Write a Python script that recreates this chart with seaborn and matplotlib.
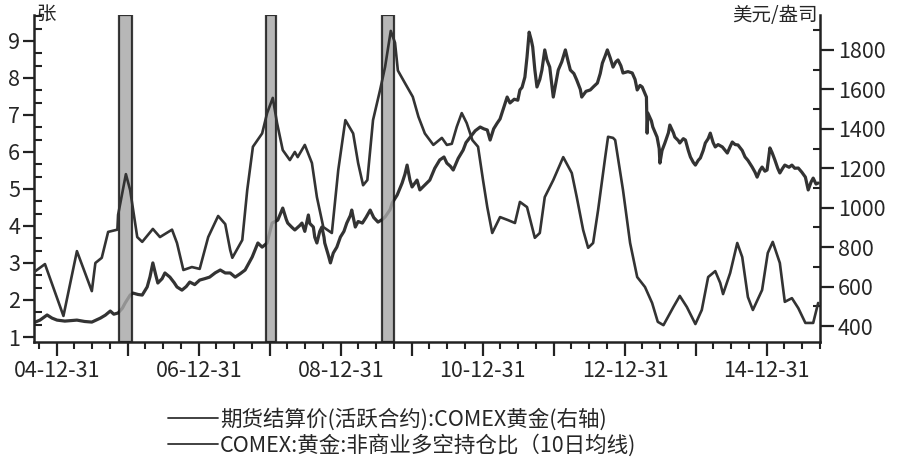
import numpy as np
import pandas as pd
import matplotlib
matplotlib.use("Agg")
import matplotlib.pyplot as plt
import matplotlib.ticker as mticker
import matplotlib.dates as mdates
from matplotlib.lines import Line2D
import seaborn as sns

# ---------------- data (decimal years) ----------------
ratio_t = [2004.66, 2004.83, 2005.09, 2005.28, 2005.49, 2005.54, 2005.63, 2005.72, 2005.85, 2005.86,
           2005.97, 2006.03, 2006.13, 2006.20, 2006.35, 2006.45, 2006.62, 2006.69, 2006.78, 2006.90,
           2007.01, 2007.13, 2007.27, 2007.37, 2007.44, 2007.47, 2007.61, 2007.68, 2007.76, 2007.89,
           2007.96, 2008.04, 2008.10, 2008.18, 2008.28, 2008.35, 2008.39, 2008.49, 2008.59, 2008.66,
           2008.75, 2008.87, 2008.96, 2009.06, 2009.17, 2009.24, 2009.31, 2009.37, 2009.45, 2009.55,
           2009.62, 2009.70, 2009.76, 2009.80, 2009.90, 2010.01, 2010.09, 2010.18, 2010.30, 2010.42,
           2010.49, 2010.56, 2010.63, 2010.70, 2010.77, 2010.85, 2010.93, 2011.00, 2011.06, 2011.13,
           2011.24, 2011.35, 2011.45, 2011.52, 2011.62, 2011.73, 2011.80, 2011.87, 2011.99, 2012.13,
           2012.25, 2012.32, 2012.41, 2012.48, 2012.55, 2012.62, 2012.72, 2012.76, 2012.83, 2012.86,
           2012.97, 2013.07, 2013.17, 2013.28, 2013.38, 2013.46, 2013.54, 2013.68, 2013.77, 2013.87,
           2013.99, 2014.08, 2014.17, 2014.27, 2014.34, 2014.38, 2014.48, 2014.58, 2014.65, 2014.73,
           2014.80, 2014.93, 2015.01, 2015.08, 2015.18, 2015.25, 2015.35, 2015.44, 2015.54, 2015.65,
           2015.72]
ratio_v = [2.73, 2.97, 1.57, 3.32, 2.24, 3.00, 3.14, 3.84, 3.90, 4.30,
           5.40, 4.97, 3.70, 3.57, 3.92, 3.70, 3.90, 3.54, 2.81, 2.89,
           2.84, 3.70, 4.27, 4.05, 3.35, 3.14, 3.62, 4.97, 6.14, 6.50,
           7.05, 7.46, 6.78, 6.05, 5.78, 6.00, 5.86, 6.19, 5.70, 4.78,
           3.97, 3.81, 5.51, 6.86, 6.50, 5.70, 5.10, 5.24, 6.86, 7.68,
           8.30, 9.27, 8.95, 8.20, 7.86, 7.49, 6.95, 6.50, 6.19, 6.38,
           6.19, 6.22, 6.68, 7.05, 6.78, 6.32, 6.14, 5.24, 4.51, 3.81,
           4.24, 4.16, 4.08, 4.65, 4.51, 3.68, 3.81, 4.78, 5.24, 5.86,
           5.43, 4.78, 3.89, 3.41, 3.54, 4.43, 5.86, 6.41, 6.38, 6.32,
           4.97, 3.54, 2.62, 2.35, 1.92, 1.41, 1.32, 1.81, 2.11, 1.81,
           1.35, 1.73, 2.62, 2.78, 2.46, 2.16, 2.73, 3.54, 3.16, 2.08,
           1.73, 2.27, 3.27, 3.57, 3.00, 1.95, 2.05, 1.78, 1.38, 1.38,
           1.92]

gold_t = [2004.66, 2004.76, 2004.86, 2004.93, 2005.00, 2005.11, 2005.28, 2005.39, 2005.49, 2005.61,
          2005.68, 2005.75, 2005.80, 2005.86, 2005.92, 2005.96, 2006.03, 2006.07, 2006.14, 2006.20,
          2006.27, 2006.31, 2006.35, 2006.39, 2006.42, 2006.48, 2006.52, 2006.59, 2006.65, 2006.69,
          2006.76, 2006.82, 2006.87, 2006.94, 2007.01, 2007.08, 2007.15, 2007.23, 2007.30, 2007.37,
          2007.44, 2007.51, 2007.58, 2007.65, 2007.72, 2007.75, 2007.83, 2007.89, 2007.96, 2008.03,
          2008.11, 2008.18, 2008.23, 2008.25, 2008.31, 2008.35, 2008.42, 2008.45, 2008.49, 2008.54,
          2008.56, 2008.61, 2008.63, 2008.66, 2008.70, 2008.73, 2008.76, 2008.77, 2008.82, 2008.85,
          2008.89, 2008.94, 2008.99, 2009.04, 2009.08, 2009.13, 2009.15, 2009.20, 2009.24, 2009.30,
          2009.35, 2009.41, 2009.46, 2009.52, 2009.58, 2009.62, 2009.69, 2009.72, 2009.79, 2009.86,
          2009.90, 2009.93, 2009.97, 2010.00, 2010.07, 2010.11, 2010.18, 2010.25, 2010.32, 2010.39,
          2010.45, 2010.49, 2010.54, 2010.58, 2010.65, 2010.72, 2010.76, 2010.82, 2010.89, 2010.96,
          2011.01, 2011.06, 2011.10, 2011.15, 2011.20, 2011.24, 2011.28, 2011.34, 2011.38, 2011.44,
          2011.49, 2011.52, 2011.55, 2011.59, 2011.62, 2011.65, 2011.68, 2011.70, 2011.73, 2011.76,
          2011.80, 2011.83, 2011.87, 2011.90, 2011.94, 2011.99, 2012.01, 2012.06, 2012.11, 2012.16,
          2012.20, 2012.23, 2012.28, 2012.32, 2012.37, 2012.39, 2012.45, 2012.51, 2012.56, 2012.61,
          2012.65, 2012.68, 2012.72, 2012.75, 2012.79, 2012.83, 2012.87, 2012.90, 2012.94, 2012.97,
          2013.04, 2013.10, 2013.14, 2013.17, 2013.21, 2013.24, 2013.30, 2013.31, 2013.32, 2013.37,
          2013.39, 2013.45, 2013.48, 2013.49, 2013.52, 2013.56, 2013.61, 2013.63, 2013.68, 2013.70,
          2013.75, 2013.77, 2013.82, 2013.85, 2013.89, 2013.92, 2013.96, 2013.99, 2014.03, 2014.06,
          2014.10, 2014.13, 2014.17, 2014.20, 2014.24, 2014.27, 2014.31, 2014.37, 2014.41, 2014.44,
          2014.48, 2014.51, 2014.55, 2014.59, 2014.65, 2014.69, 2014.73, 2014.79, 2014.83, 2014.86,
          2014.90, 2014.93, 2014.97, 2015.00, 2015.04, 2015.07, 2015.11, 2015.15, 2015.18, 2015.22,
          2015.25, 2015.31, 2015.35, 2015.39, 2015.44, 2015.49, 2015.54, 2015.58, 2015.62, 2015.65,
          2015.69, 2015.72]
gold_v = [415, 430, 456, 440, 430, 425, 430, 423, 420, 440,
          455, 476, 460, 466, 490, 517, 557, 567, 560, 557,
          598, 650, 720, 660, 618, 640, 669, 648, 620, 598,
          582, 600, 623, 610, 633, 640, 648, 670, 684, 669,
          669, 648, 665, 684, 730, 750, 821, 800, 821, 922,
          937, 998, 940, 922, 900, 887, 910, 922, 880, 963,
          920, 902, 850, 821, 880, 902, 850, 821, 760, 720,
          770, 800, 851, 880, 922, 960, 988, 902, 930, 922,
          950, 988, 950, 927, 940, 953, 990, 1024, 1064, 1125,
          1170, 1216, 1140, 1105, 1140, 1090, 1115, 1140, 1200, 1242,
          1257, 1226, 1210, 1191, 1250, 1292, 1330, 1358, 1390, 1409,
          1400, 1394, 1343, 1400, 1429, 1450, 1495, 1561, 1531, 1550,
          1545, 1597, 1610, 1662, 1764, 1890, 1850, 1815, 1700, 1612,
          1650, 1698, 1800, 1750, 1713, 1561, 1600, 1698, 1740, 1800,
          1740, 1698, 1680, 1647, 1600, 1561, 1590, 1597, 1615, 1632,
          1680, 1733, 1770, 1800, 1760, 1713, 1740, 1749, 1720, 1683,
          1690, 1683, 1650, 1597, 1620, 1612, 1561, 1378, 1480, 1440,
          1409, 1358, 1300, 1226, 1290, 1328, 1380, 1419, 1380, 1358,
          1340, 1328, 1350, 1343, 1290, 1257, 1230, 1216, 1240, 1252,
          1290, 1328, 1350, 1378, 1330, 1308, 1320, 1308, 1290, 1277,
          1310, 1333, 1320, 1318, 1290, 1257, 1240, 1206, 1180, 1155,
          1190, 1206, 1185, 1191, 1303, 1280, 1242, 1200, 1176, 1200,
          1216, 1205, 1216, 1200, 1201, 1180, 1155, 1090, 1130, 1150,
          1120, 1125]

shade_start = [2005.87, 2007.94, 2009.58]
shade_end = [2006.05, 2008.08, 2009.75]

gold_label = "期货结算价(活跃合约):COMEX黄金(右轴)"
ratio_label = "COMEX:黄金:非商业多空持仓比（10日均线)"
left_unit = "张"
right_unit = "美元/盎司"
x_start, x_end = 2004.676, 2015.746
left_lim = (0.865, 9.70)
right_lim = (319, 1977)


def to_date(t):
    y = int(np.floor(t))
    a = pd.Timestamp(year=y, month=1, day=1)
    b = pd.Timestamp(year=y + 1, month=1, day=1)
    return a + (b - a) * (t - y)


gold_df = pd.DataFrame({"date": [to_date(t) for t in gold_t], "value": gold_v})
ratio_df = pd.DataFrame({"date": [to_date(t) for t in ratio_t], "value": ratio_v})

# ---------------- style ----------------
sns.set_style("ticks")
plt.rcParams["font.family"] = ["Noto Sans CJK SC", "DejaVu Sans"]
plt.rcParams["axes.unicode_minus"] = False

LINE = "#333333"
FS = 15.5

fig = plt.figure(figsize=(9, 4.7), dpi=100)
ax = fig.add_axes([34 / 900, 1 - 342 / 470, (820 - 34) / 900, (342 - 15) / 470])
ax2 = ax.twinx()
ax.set_zorder(ax2.get_zorder() + 1)
ax.patch.set_visible(False)

sns.lineplot(data=gold_df, x="date", y="value", ax=ax2, color=LINE, linewidth=2.3,
             estimator=None, sort=False, zorder=2)
for s, e in zip(shade_start, shade_end):
    ax.axvspan(to_date(s), to_date(e), ymin=0, ymax=1, facecolor="#a8a8a8",
               edgecolor="#111111", linewidth=1.6, zorder=2, alpha=0.82)
sns.lineplot(data=ratio_df, x="date", y="value", ax=ax, color=LINE, linewidth=1.9,
             estimator=None, sort=False, zorder=3)

ax.set_xlim(to_date(x_start), to_date(x_end))
ax.set_ylim(*left_lim)
ax2.set_ylim(*right_lim)
ax.set_xlabel("")
ax.set_ylabel("")
ax2.set_ylabel("")

for sp in ["top", "right"]:
    ax.spines[sp].set_visible(False)
for sp in ["top", "left", "bottom"]:
    ax2.spines[sp].set_visible(False)
for sp in ["left", "bottom"]:
    ax.spines[sp].set_linewidth(1.8)
    ax.spines[sp].set_color("#222222")
ax2.spines["right"].set_linewidth(1.8)
ax2.spines["right"].set_color("#222222")

# x ticks: yearly majors (labels every 2 years), quarterly minors
year_ends = pd.date_range("2004-12-31", "2015-12-31", freq="YE")
quarter_ends = pd.date_range("2004-09-30", "2015-09-30", freq="QE")
ax.xaxis.set_major_locator(mticker.FixedLocator(mdates.date2num(year_ends)))
ax.xaxis.set_minor_locator(mticker.FixedLocator(mdates.date2num(quarter_ends)))


def xfmt(v, pos):
    d = mdates.num2date(v)
    return d.strftime("%y-%m-%d") if d.year % 2 == 0 else ""


ax.xaxis.set_major_formatter(mticker.FuncFormatter(xfmt))
ax.tick_params(axis="x", which="major", direction="out", length=10, width=1.6,
               labelsize=FS, pad=3, color="#222222")
ax.tick_params(axis="x", which="minor", direction="out", length=5, width=1.5, color="#222222")

ax.yaxis.set_major_locator(mticker.MultipleLocator(1))
ax.yaxis.set_minor_locator(mticker.MultipleLocator(1 / 3))
ax.yaxis.set_major_formatter(mticker.FormatStrFormatter("%d"))
ax.tick_params(axis="y", which="major", direction="out", length=8, width=1.6,
               labelsize=FS, pad=2, color="#222222")
ax.tick_params(axis="y", which="minor", direction="in", length=6, width=1.5, color="#222222")

ax2.yaxis.set_major_locator(mticker.MultipleLocator(200))
ax2.yaxis.set_minor_locator(mticker.MultipleLocator(100))
ax2.yaxis.set_major_formatter(mticker.FormatStrFormatter("%d"))
ax2.tick_params(axis="y", which="major", direction="out", length=10, width=1.6,
                labelsize=FS, pad=3, color="#222222")
ax2.tick_params(axis="y", which="minor", direction="in", length=5, width=1.5, color="#222222")

fig.text(36 / 900, 1 - 15 / 470, left_unit, ha="left", va="center", fontsize=14)
fig.text(818 / 900, 1 - 16 / 470, right_unit, ha="right", va="center", fontsize=14)

handles = [Line2D([], [], color=LINE, linewidth=1.3), Line2D([], [], color=LINE, linewidth=1.3)]
fig.legend(handles, [gold_label, ratio_label], loc="upper left",
           bbox_to_anchor=(168 / 900, 1 - 408 / 470), frameon=False, fontsize=FS,
           handlelength=2.3, handletextpad=0.1, labelspacing=0.15, borderpad=0,
           borderaxespad=0)

fig.savefig("out.png", dpi=100)
